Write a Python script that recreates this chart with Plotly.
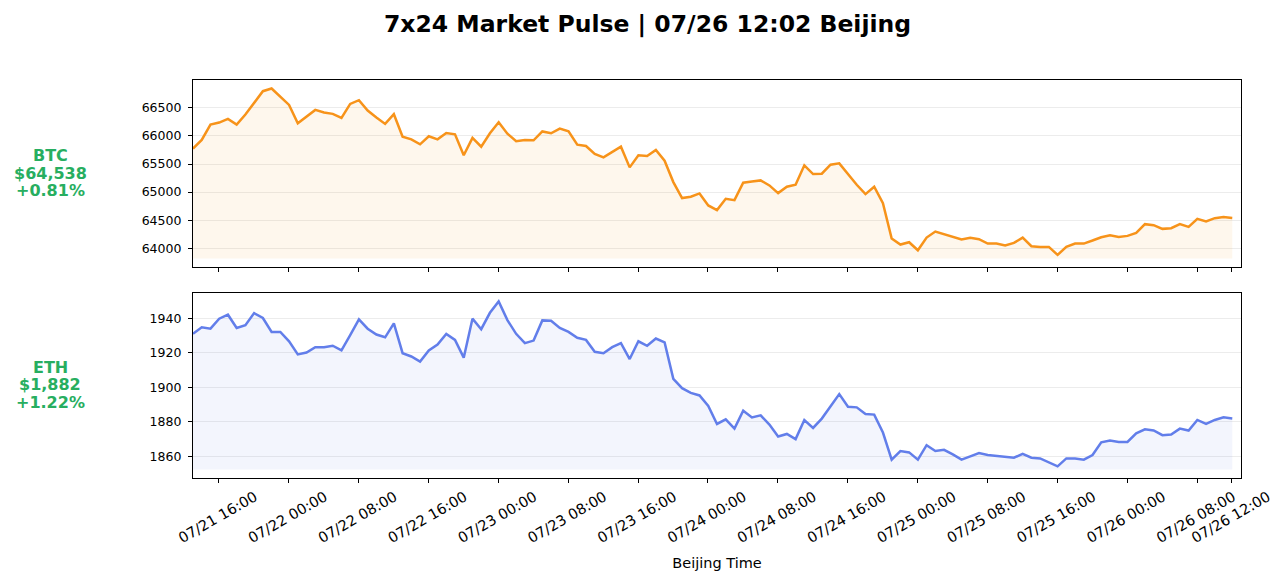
import pandas as pd
import plotly.graph_objects as go

# ---------------- data ----------------
start_time = "2024-07-21 13:02"
n_points = 120

btc_prices = [
    65774, 65928, 66202, 66238, 66303, 66202, 66381, 66595, 66797, 66845,
    66696, 66553, 66226, 66339, 66464, 66417, 66393, 66321, 66571, 66637,
    66452, 66327, 66214, 66387, 65988, 65940, 65851, 65994, 65940, 66053,
    66030, 65655, 65964, 65809, 66047, 66244, 66041, 65905, 65928, 65922,
    66080, 66047, 66131, 66083, 65845, 65821, 65678, 65619, 65714, 65809,
    65440, 65655, 65643, 65750, 65559, 65178, 64893, 64917, 64976, 64762,
    64679, 64881, 64857, 65167, 65190, 65208, 65119, 64982, 65095, 65131,
    65476, 65321, 65327, 65488, 65512, 65321, 65131, 64964, 65095, 64804,
    64172, 64065, 64107, 63964, 64190, 64298, 64250, 64196, 64155, 64185,
    64161, 64083, 64083, 64048, 64095, 64190, 64036, 64024, 64024, 63881,
    64024, 64083, 64083, 64137, 64196, 64232, 64202, 64220, 64274, 64429,
    64411, 64345, 64357, 64429, 64381, 64524, 64476, 64536, 64554, 64538,
]

eth_prices = [
    1931.0, 1934.8, 1934.0, 1939.8, 1942.1, 1934.4, 1936.0, 1943.0, 1940.2, 1932.1,
    1932.1, 1926.7, 1919.1, 1920.2, 1923.3, 1923.3, 1924.1, 1921.4, 1930.2, 1939.4,
    1934.0, 1930.6, 1929.0, 1937.1, 1919.8, 1917.9, 1914.9, 1921.4, 1924.8, 1931.0,
    1927.5, 1917.2, 1939.8, 1933.7, 1943.2, 1949.8, 1939.0, 1931.0, 1925.6, 1927.1,
    1938.8, 1938.6, 1934.4, 1932.1, 1928.7, 1927.5, 1920.6, 1919.8, 1923.3, 1925.6,
    1916.4, 1926.7, 1924.1, 1928.3, 1926.0, 1904.9, 1899.5, 1896.8, 1895.3, 1889.2,
    1878.8, 1881.5, 1876.1, 1886.5, 1882.6, 1883.8, 1878.4, 1871.5, 1873.0, 1870.0,
    1881.1, 1876.5, 1881.9, 1889.2, 1896.1, 1888.8, 1888.4, 1884.5, 1884.2, 1873.8,
    1858.1, 1863.1, 1862.3, 1858.1, 1866.5, 1863.1, 1863.8, 1861.2, 1858.1, 1860.0,
    1861.9, 1860.8, 1860.2, 1859.6, 1859.2, 1861.5, 1859.2, 1858.8, 1856.5, 1854.2,
    1858.8, 1858.8, 1858.1, 1860.8, 1868.1, 1869.2, 1868.4, 1868.4, 1873.4, 1875.7,
    1875.0, 1872.3, 1872.7, 1876.1, 1875.0, 1881.1, 1878.8, 1881.1, 1882.6, 1882.0,
]

tick_labels = [
    "07/21 16:00", "07/22 00:00", "07/22 08:00", "07/22 16:00", "07/23 00:00",
    "07/23 08:00", "07/23 16:00", "07/24 00:00", "07/24 08:00", "07/24 16:00",
    "07/25 00:00", "07/25 08:00", "07/25 16:00", "07/26 00:00", "07/26 08:00",
    "07/26 12:00",
]

btc_lines = ["BTC", "$64,538", "+0.81%"]
eth_lines = ["ETH", "$1,882", "+1.22%"]
title_text = "<b>7x24 Market Pulse | 07/26 12:02 Beijing</b>"

# ---------------- styling ----------------
BTC_COLOR = "#F7931A"
ETH_COLOR = "#627EEA"
GREEN = "#27AE60"
PAGE_W, PAGE_H = 1287, 583
OFF = 8  # default body margin of the html page
W, H = PAGE_W - OFF, PAGE_H - OFF


def px(x):
    return (x - OFF) / W


def py(y):
    return 1 - (y - OFF) / H


times = pd.date_range(start=start_time, periods=n_points, freq="h")
tick_vals = [pd.Timestamp("2024/" + t) for t in tick_labels]
x_range = [times[0], times[-1] + pd.Timedelta(hours=1)]


def rgba(hex_color, a):
    h = hex_color.lstrip("#")
    r, g, b = int(h[0:2], 16), int(h[2:4], 16), int(h[4:6], 16)
    return f"rgba({r},{g},{b},{a})"


def y_limits(vals):
    base = min(vals) * 0.999
    lo, hi = base, max(vals)
    pad = (hi - lo) * 0.05
    return base, [lo - pad, hi + pad]


fig = go.Figure()

panels = [
    (btc_prices, BTC_COLOR, "x", "y", 500),
    (eth_prices, ETH_COLOR, "x2", "y2", 20),
]
ranges = []
for vals, color, xa, ya, dt in panels:
    base, yr = y_limits(vals)
    ranges.append((yr, dt))
    fig.add_trace(go.Scatter(
        x=times, y=[base] * len(times), mode="lines",
        line=dict(width=0, color=color), xaxis=xa, yaxis=ya,
        hoverinfo="skip", showlegend=False,
    ))
    fig.add_trace(go.Scatter(
        x=times, y=vals, mode="lines", fill="tonexty",
        fillcolor=rgba(color, 0.08),
        line=dict(width=2.5, color=color), xaxis=xa, yaxis=ya,
        showlegend=False,
    ))

x_dom = [px(193), px(1241)]
top_dom = [py(267), py(80)]
bot_dom = [py(478), py(293)]

axis_common = dict(
    showline=True, linecolor="black", linewidth=1.2, mirror=True,
    ticks="outside", ticklen=4, tickcolor="black", tickwidth=1,
    zeroline=False, automargin=False,
)
xcommon = dict(
    axis_common, range=x_range, tickmode="array", tickvals=tick_vals,
    ticktext=tick_labels, showgrid=False, domain=x_dom,
)
ycommon = dict(
    axis_common, tick0=0, showgrid=True, tickformat="d",
    gridcolor="rgba(200,200,200,0.35)", gridwidth=1,
    tickfont=dict(size=12.5), ticklabelstandoff=4,
)

annotations = []
for lines, cy in ((btc_lines, 173), (eth_lines, 385)):
    for k, txt in enumerate(lines):
        annotations.append(dict(
            text=f"<b>{txt}</b>", x=px(50), y=py(cy + (k - 1) * 17.5),
            xref="paper", yref="paper", showarrow=False,
            xanchor="center", yanchor="middle",
            font=dict(size=16, color=GREEN),
        ))

fig.update_layout(
    width=W, height=H,
    margin=dict(l=0, r=0, t=0, b=0, autoexpand=False),
    paper_bgcolor="white", plot_bgcolor="white",
    font=dict(family="DejaVu Sans", color="black"),
    xaxis=dict(xcommon, anchor="y", showticklabels=False, matches="x2"),
    xaxis2=dict(xcommon, anchor="y2", showticklabels=True, tickangle=-30,
                tickfont=dict(size=14.5), ticklabelshift=36,
                title=dict(text="Beijing Time", font=dict(size=14.5), standoff=12)),
    yaxis=dict(ycommon, domain=top_dom, anchor="x", range=ranges[0][0],
               dtick=ranges[0][1]),
    yaxis2=dict(ycommon, domain=bot_dom, anchor="x2", range=ranges[1][0],
                dtick=ranges[1][1]),
    title=dict(text=title_text, x=0.5, xanchor="center", y=py(24),
               yanchor="middle", yref="container",
               font=dict(size=23.5, color="black")),
    annotations=annotations,
)

fig.write_html("out.html")
